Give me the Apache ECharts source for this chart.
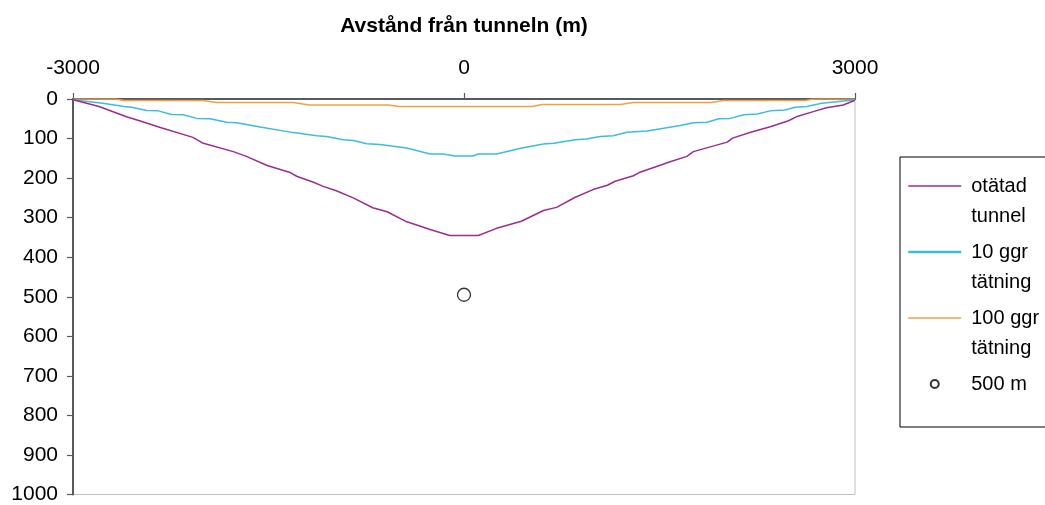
<!DOCTYPE html>
<html>
<head>
<meta charset="utf-8">
<script src="https://cdn.jsdelivr.net/npm/echarts@6/dist/echarts.min.js"></script>
<style>
html,body{margin:0;padding:0;background:#fff;}
#chart{width:1045px;height:505px;}
</style>
</head>
<body>
<div id="chart"></div>
<script>
// ---- data ----
const xTickLabels = [-3000, 0, 3000];
const yTickLabels = [0, 100, 200, 300, 400, 500, 600, 700, 800, 900, 1000];

const seriesNames = ['otätad tunnel', '10 ggr tätning', '100 ggr tätning', '500 m'];

const otatadX = [-3000,-2800,-2590,-2490,-2330,-2080,-2000,-1770,-1670,-1510,-1340,-1280,-1160,-1080,-980,-850,-700,-590,-450,-260,-110,110,250,440,610,710,850,990,1100,1160,1300,1350,1500,1570,1710,1760,2020,2060,2200,2350,2490,2550,2680,2780,2910,3000];
const otatadY = [2,19,45,55,72,97,112,133,145,168,185,196,210,221,232,250,275,285,309,330,345,345,327,309,282,274,249,229,218,208,194,185,168,160,145,133,109,99,84,70,55,45,32,22,15,3];

const tio_X = [-3000,-2870,-2770,-2610,-2550,-2435,-2345,-2245,-2155,-2050,-1950,-1820,-1745,-1565,-1310,-1130,-1055,-925,-850,-745,-645,-440,-260,-160,-70,70,110,250,445,610,690,855,940,1045,1145,1250,1405,1660,1760,1865,1955,2045,2145,2250,2350,2465,2540,2630,2745,2860,3000];
const tio_Y = [2,7,11,19,21,29,30,39,40,49,50,59,60,71,85,93,95,103,105,113,115,124,139,139,144,144,139,139,124,114,112,103,101,95,93,84,81,67,60,59,50,49,40,38,30,28,21,19,11,7,2];

const hundraX = [-3000,-2680,-2610,-2000,-1900,-1310,-1190,-580,-500,520,600,1200,1300,1900,1990,2620,2680,3000];
const hundraY = [0,0,4,4,9,9,15,15,19,19,14,14,9,9,4,4,0,0];

const pointX = [0];
const pointY = [495];

// ---- build ----
const zip = (xs, ys) => xs.map((x, i) => [x, ys[i]]);
const FONT = '"Liberation Sans", Arial, sans-serif';
const noSymbol = {color: 'transparent', borderColor: 'transparent', borderWidth: 0};
const colors = ['#9b2d8e', '#3cbbe4', '#f0a043'];

const chart = echarts.init(document.getElementById('chart'), null, {renderer: 'canvas'});
chart.setOption({
  animation: false,
  backgroundColor: '#fff',
  textStyle: {fontFamily: FONT},
  grid: {
    left: 73, right: 190, top: 99, bottom: 9,
    show: true, borderColor: '#c0c0c0', borderWidth: 1, backgroundColor: 'transparent'
  },
  xAxis: {
    type: 'value', position: 'top',
    min: xTickLabels[0], max: xTickLabels[xTickLabels.length - 1], interval: 3000,
    name: 'Avstånd från tunneln (m)', nameLocation: 'middle', nameGap: 62,
    nameTextStyle: {fontSize: 21, fontWeight: 'bold', color: '#000', fontFamily: FONT},
    axisLine: {show: true, onZero: false, lineStyle: {color: '#595959', width: 2}},
    axisTick: {show: true, length: 6, lineStyle: {color: '#595959', width: 1.2}},
    axisLabel: {fontSize: 21, color: '#000', margin: 20, fontFamily: FONT, formatter: v => String(v)},
    splitLine: {show: false}
  },
  yAxis: {
    type: 'value', inverse: true,
    min: yTickLabels[0], max: yTickLabels[yTickLabels.length - 1], interval: 100,
    axisLine: {show: true, onZero: false, lineStyle: {color: '#595959', width: 2}},
    axisTick: {show: true, length: 6, lineStyle: {color: '#595959', width: 1.2}},
    axisLabel: {fontSize: 21, color: '#000', margin: 15, fontFamily: FONT, formatter: v => String(v)},
    splitLine: {show: false}
  },
  legend: {
    orient: 'vertical', left: 900, top: 157,
    padding: [-16, 40, -2, 7],
    borderColor: '#000', borderWidth: 1, backgroundColor: '#fff',
    itemWidth: 53, itemHeight: 8, itemGap: -24,
    selectedMode: false,
    data: [
      {name: seriesNames[0], itemStyle: noSymbol, lineStyle: {color: colors[0], width: 1.5}},
      {name: seriesNames[1], itemStyle: noSymbol, lineStyle: {color: colors[1], width: 2.5}},
      {name: seriesNames[2], itemStyle: noSymbol, lineStyle: {color: colors[2], width: 1.5}},
      {name: seriesNames[3]}
    ],
    formatter: name => name === '500 m' ? '\n500 m\n' : '\n' + name.replace(/ (\S+)$/, '\n$1'),
    textStyle: {fontSize: 20, lineHeight: 30, color: '#000', padding: [0, 0, 0, 5], fontFamily: FONT}
  },
  series: [
    {name: seriesNames[0], type: 'line', data: zip(otatadX, otatadY), symbol: 'none',
     lineStyle: {color: colors[0], width: 1.5}, itemStyle: {color: colors[0]}, z: 4},
    {name: seriesNames[1], type: 'line', data: zip(tio_X, tio_Y), symbol: 'none',
     lineStyle: {color: colors[1], width: 1.5}, itemStyle: {color: colors[1]}, z: 3},
    {name: seriesNames[2], type: 'line', data: zip(hundraX, hundraY), symbol: 'none',
     lineStyle: {color: colors[2], width: 1.5}, itemStyle: {color: colors[2]}, z: 2},
    {name: seriesNames[3], type: 'scatter', data: zip(pointX, pointY), symbol: 'circle', symbolSize: 13,
     itemStyle: {color: '#fff', borderColor: '#000', borderWidth: 1.3}, z: 5}
  ]
});
</script>
</body>
</html>
